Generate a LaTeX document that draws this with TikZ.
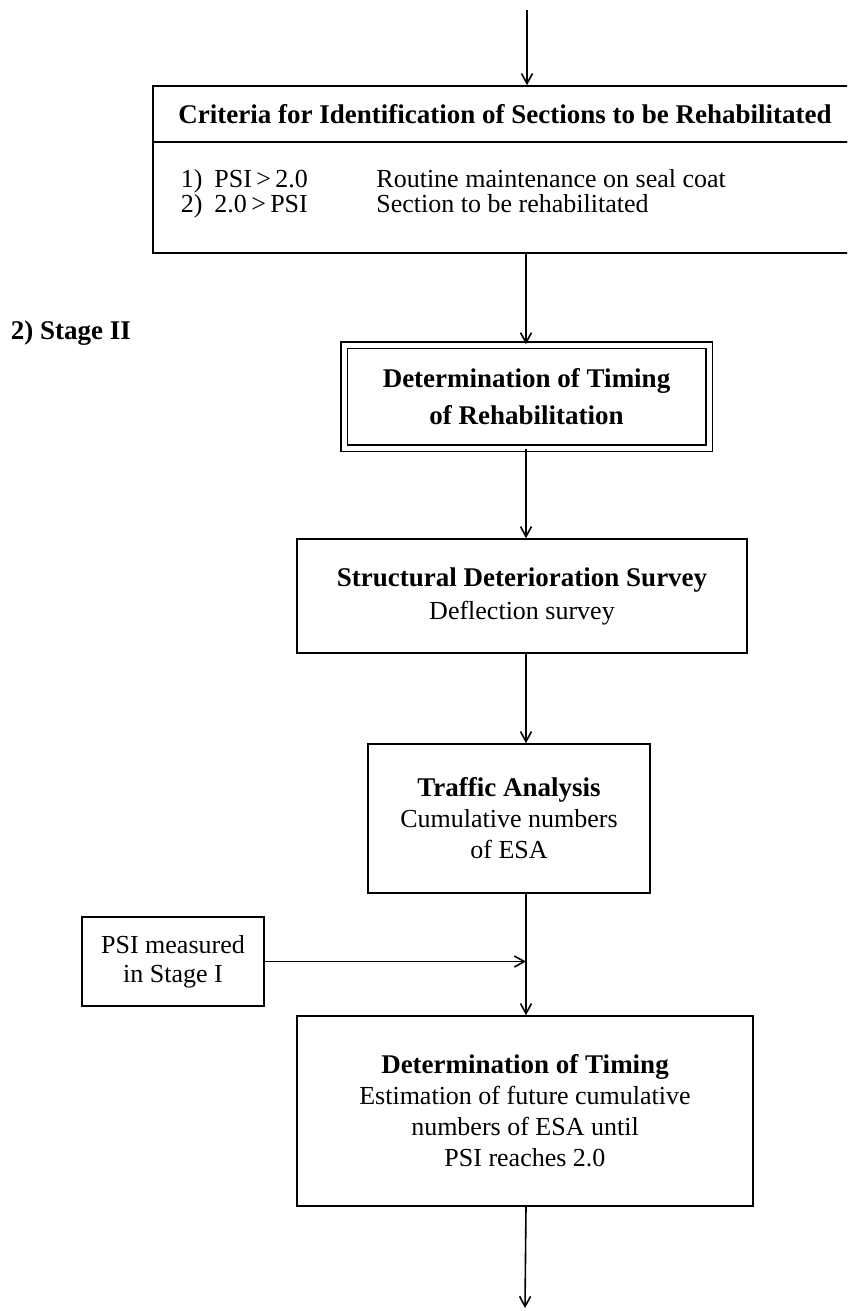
\documentclass[tikz,border=0pt]{standalone}
\usepackage{fontspec}
\setmainfont{Liberation Serif}
\usepackage{tikz}
\usetikzlibrary{arrows.meta,positioning}

\newcommand{\boxhead}[1]{{\fontsize{13.5}{15.5}\selectfont\bfseries #1}}

\begin{document}
\begin{tikzpicture}[x=0.5pt, y=-0.5pt, line width=0.8pt,
  >={Straight Barb[length=5pt,width=5.5pt]},
  box/.style={draw, align=center, inner sep=0pt, font=\fontsize{13}{15.5}\selectfont},
  dbox/.style={box, double, double distance=2.5pt, line width=0.7pt}]

\path[use as bounding box, fill=white] (0,0) rectangle (847,1311);
\clip (0,0) rectangle (847,1311);

\coordinate (spine) at (526,0);
\coordinate (entry) at (527,10);
\coordinate (exit) at (525,1308);

\node[box, minimum width=352pt, minimum height=28pt,
  font=\fontsize{13.5}{16}\selectfont\bfseries] (crithead) at (505,114)
  {Criteria for Identification of Sections to be Rehabilitated};
\node[box, minimum width=352pt, minimum height=55.5pt] (critbody) at (505,197.5) {};
\node[anchor=west, inner sep=0pt, font=\fontsize{13}{11.5}\selectfont] (critlist) at (180,194) {
\begin{tabular}{@{}l@{\hspace{6pt}}l@{}l@{}}
1) & \makebox[81pt][l]{PSI\,>\,2.0} & Routine maintenance on seal coat \\
2) & \makebox[81pt][l]{2.0\,>\,PSI} & Section to be rehabilitated
\end{tabular}
};

\node[anchor=west, inner sep=0pt, font=\fontsize{13.5}{16}\selectfont\bfseries] (stage) at (10,333) {2) Stage II};

\node[dbox, minimum width=182.5pt, minimum height=51.5pt,
  font=\fontsize{13.5}{18.5}\selectfont\bfseries] (rehab) at (526.5,396.5)
  {Determination of Timing\\of Rehabilitation};

\node[box, minimum width=225pt, minimum height=57pt] (struct) at (522,596)
  {\boxhead{Structural Deterioration Survey}\\[1pt]Deflection survey};

\node[box, minimum width=141pt, minimum height=74.5pt] (traffic) at (509,818.5)
  {\boxhead{Traffic Analysis}\\Cumulative numbers\\of ESA};

\node[box, minimum width=91pt, minimum height=44.5pt] (psi) at (173,961.5)
  {PSI measured\\[-1pt]in Stage I};

\node[box, minimum width=228pt, minimum height=95pt] (timing) at (525,1111)
  {\boxhead{Determination of Timing}\\Estimation of future cumulative\\numbers of ESA until\\PSI reaches 2.0};

\path[draw] [->] (entry) -- (crithead.north -| entry);
\path[draw] [->] (critbody.south -| spine) -- (rehab.north -| spine);
\path[draw] [->] (rehab.south -| spine) -- (struct.north -| spine);
\path[draw] [->] (struct.south -| spine) -- (traffic.north -| spine);
\path[draw] [->] (traffic.south -| spine) -- (timing.north -| spine);
\path[draw] [->] (psi.east) -- (psi.east -| spine);
\path[draw] [->] (timing.south -| spine) -- (exit);

\end{tikzpicture}
\end{document}
